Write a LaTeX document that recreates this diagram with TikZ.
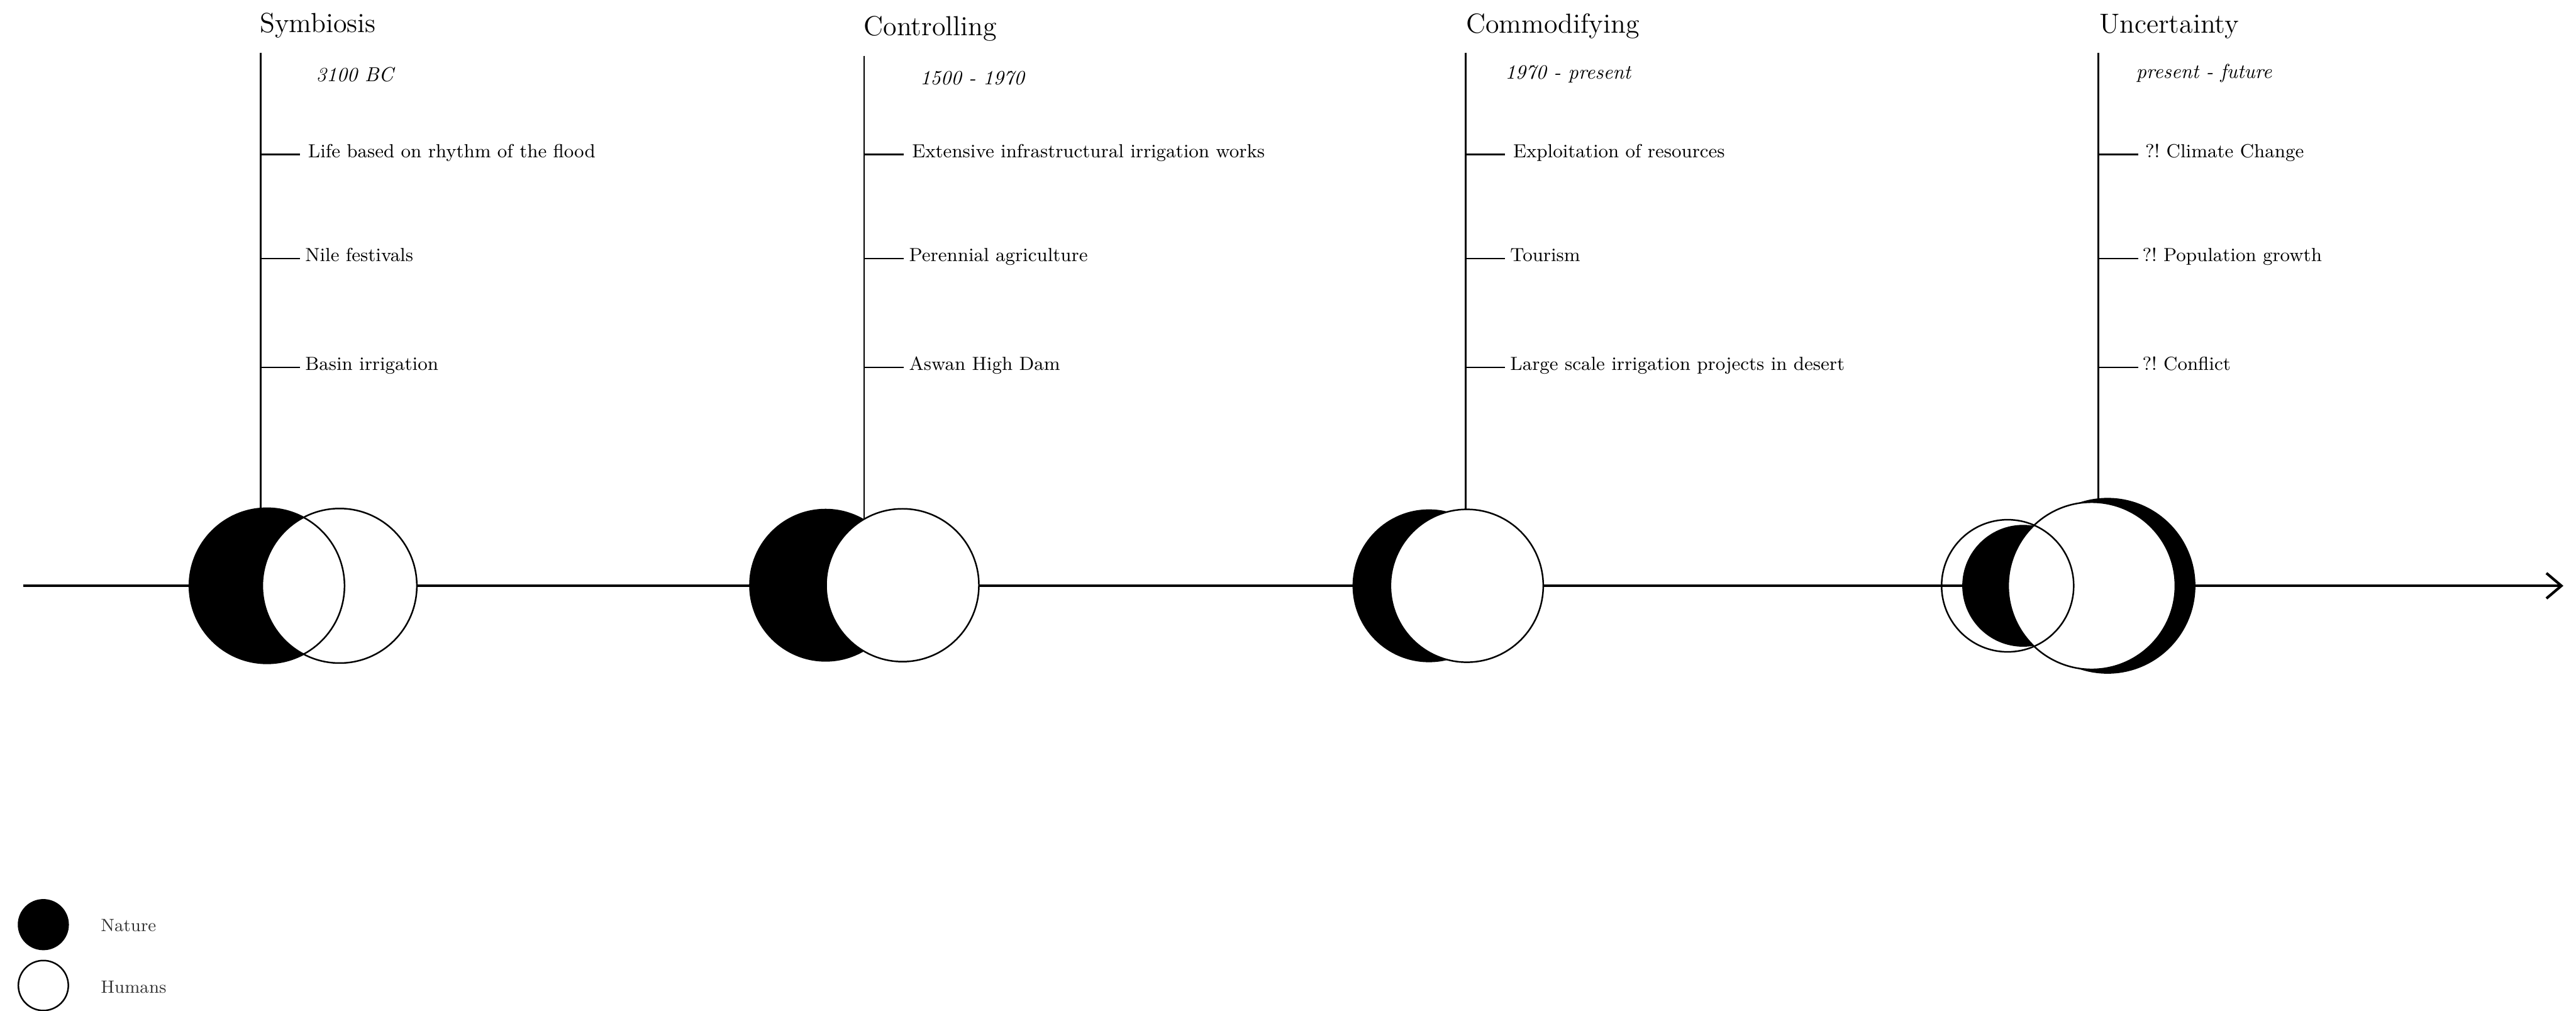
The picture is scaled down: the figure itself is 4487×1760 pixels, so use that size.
\documentclass[tikz,border=0pt]{standalone}
\usetikzlibrary{arrows.meta}
\begin{document}
\frenchspacing
\begin{tikzpicture}[x=0.01cm, y=-0.01cm,
  axisline/.style={line width=1.3pt, -{Straight Barb[length=0.26cm, width=0.44cm]}},
  stem/.style={line width=0.77pt},
  nature/.style={circle, fill=black, inner sep=0pt, outer sep=0pt},
  humans/.style={circle, fill=white, draw=black, line width=0.77pt, inner sep=0pt, outer sep=0pt},
  rim/.style={circle, draw=black, line width=0.77pt, inner sep=0pt, outer sep=0pt},
  phase/.style={anchor=base west, inner sep=0pt, font=\fontsize{13.66pt}{16pt}\selectfont},
  period/.style={anchor=base west, inner sep=0pt, font=\fontsize{10pt}{12pt}\selectfont\itshape},
  event/.style={anchor=base west, inner sep=0pt, font=\fontsize{9.39pt}{11pt}\selectfont},
  key/.style={anchor=base west, inner sep=0pt, text=black!80, font=\fontsize{8.8pt}{10pt}\selectfont},
]
% canvas
\fill[white] (0,0) rectangle (4487,1760);
\useasboundingbox (0,0) rectangle (4487,1760);

% time axis
\coordinate (axis-start) at (40,1020);
\coordinate (axis-end) at (4465,1020);
\draw[axisline] (axis-start) -- (axis-end);

% ---------- Symbiosis ----------
\coordinate (sym-top) at (454,91.5);
\node[phase] (sym-title) at (452,56) {Symbiosis};
\node[period] (sym-date) at (550,142) {3100 BC};
\draw[stem] (sym-top) -- (sym-top |- axis-start);
\coordinate (sym-e1) at (522,269);
\coordinate (sym-e2) at (522,450);
\coordinate (sym-e3) at (522,640);
\draw[stem] (sym-top |- sym-e1) -- (sym-e1);
\draw[stem] (sym-top |- sym-e2) -- (sym-e2);
\draw[stem] (sym-top |- sym-e3) -- (sym-e3);
\node[event] (sym-t1) at (536,274) {Life based on rhythm of the flood};
\node[event] (sym-t2) at (531,455) {Nile festivals};
\node[event] (sym-t3) at (531,645) {Basin irrigation};
\node[nature, minimum size=2.70cm] (sym-nat) at (465,1020) {};
\node[humans, minimum size=2.69cm] (sym-hum) at (591.5,1020) {};
\node[rim, minimum size=2.70cm] (sym-rim) at (465,1020) {};

% ---------- Controlling ----------
\coordinate (con-top) at (1505,97);
\node[phase] (con-title) at (1504,62) {Controlling};
\node[period] (con-date) at (1602,147) {1500 - 1970};
\draw[stem] (con-top) -- (con-top |- axis-start);
\coordinate (con-e1) at (1574,269);
\coordinate (con-e2) at (1574,450);
\coordinate (con-e3) at (1574,640);
\draw[stem] (con-top |- con-e1) -- (con-e1);
\draw[stem] (con-top |- con-e2) -- (con-e2);
\draw[stem] (con-top |- con-e3) -- (con-e3);
\node[event] (con-t1) at (1588,274) {Extensive infrastructural irrigation works};
\node[event] (con-t2) at (1583,455) {Perennial agriculture};
\node[event] (con-t3) at (1583,645) {Aswan High Dam};
\node[nature, minimum size=2.66cm] (con-nat) at (1438,1019) {};
\node[humans, minimum size=2.66cm] (con-hum) at (1572,1019) {};

% ---------- Commodifying ----------
\coordinate (com-top) at (2553,91.5);
\node[phase] (com-title) at (2553,57) {Commodifying};
\node[period] (com-date) at (2621,138) {1970 - present};
\draw[stem] (com-top) -- (com-top |- axis-start);
\coordinate (com-e1) at (2621,269);
\coordinate (com-e2) at (2621,450);
\coordinate (com-e3) at (2621,640);
\draw[stem] (com-top |- com-e1) -- (com-e1);
\draw[stem] (com-top |- com-e2) -- (com-e2);
\draw[stem] (com-top |- com-e3) -- (com-e3);
\node[event] (com-t1) at (2635,274) {Exploitation of resources};
\node[event] (com-t2) at (2630,455) {Tourism};
\node[event] (com-t3) at (2630,645) {Large scale irrigation projects in desert};
\node[nature, minimum size=2.66cm] (com-nat) at (2489,1020) {};
\node[humans, minimum size=2.66cm] (com-hum) at (2555,1020) {};

% ---------- Uncertainty ----------
\coordinate (unc-top) at (3655,91.5);
\node[phase] (unc-title) at (3656,58) {Uncertainty};
\node[period] (unc-date) at (3720,136) {present - future};
\draw[stem] (unc-top) -- (unc-top |- axis-start);
\coordinate (unc-e1) at (3724,269);
\coordinate (unc-e2) at (3724,450);
\coordinate (unc-e3) at (3724,640);
\draw[stem] (unc-top |- unc-e1) -- (unc-e1);
\draw[stem] (unc-top |- unc-e2) -- (unc-e2);
\draw[stem] (unc-top |- unc-e3) -- (unc-e3);
\node[event] (unc-t1) at (3736,274) {?! Climate Change};
\node[event] (unc-t2) at (3731,455) {?! Population growth};
\node[event] (unc-t3) at (3731,645) {?! Conflict};
\node[nature, minimum size=3.06cm] (unc-nat-big) at (3671,1020) {};
\node[nature, minimum size=2.12cm] (unc-nat-small) at (3524,1020) {};
\node[humans, minimum size=2.91cm] (unc-hum) at (3643.5,1020) {};
\node[rim, minimum size=2.30cm] (unc-rim) at (3497,1020) {};

% ---------- legend ----------
\node[nature, minimum size=0.89cm] (key-nat) at (75.5,1610) {};
\node[humans, minimum size=0.87cm] (key-hum) at (75.5,1716) {};
\node[key] (key-nat-label) at (175,1622) {Nature};
\node[key] (key-hum-label) at (175,1729) {Humans};
\end{tikzpicture}
\end{document}
